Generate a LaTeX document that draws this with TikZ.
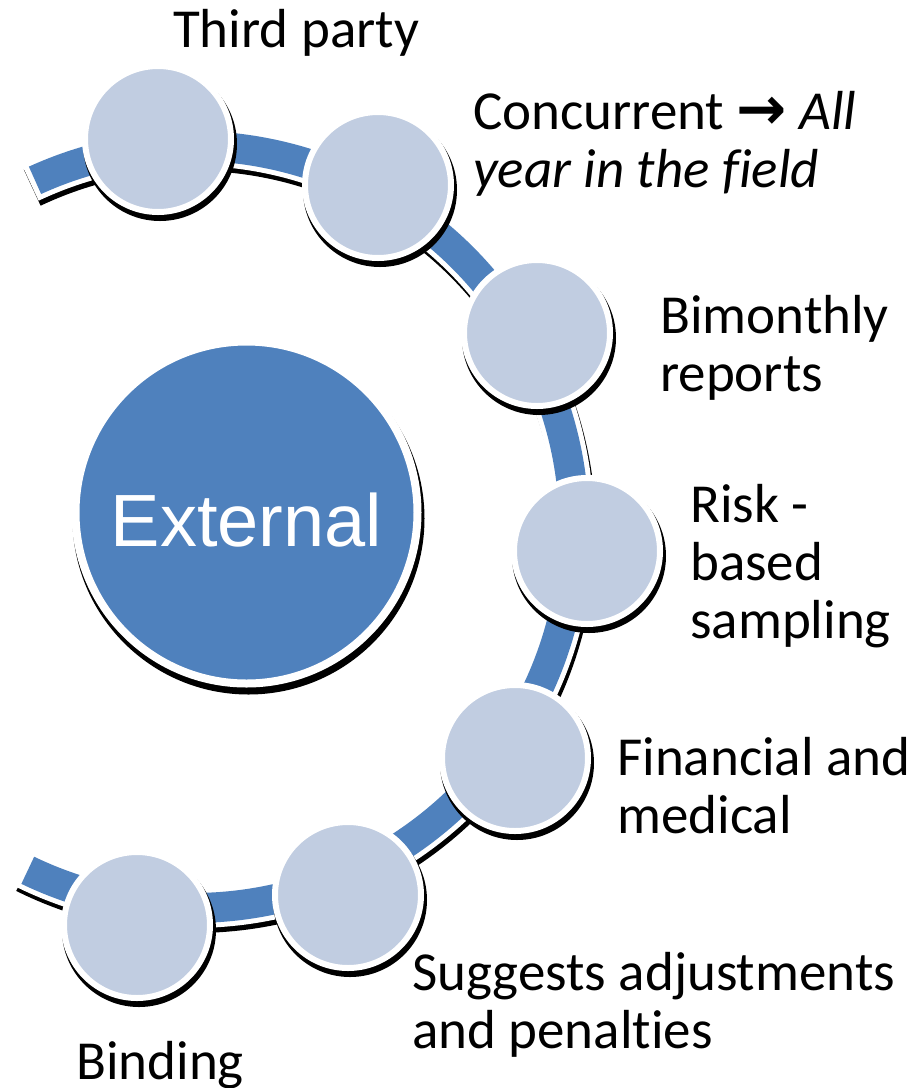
\documentclass[tikz,border=0pt]{standalone}
\usepackage{fontspec}
\setmainfont{Carlito}[Ligatures={NoCommon}]
\newfontfamily\arialfont{Liberation Sans}
\newfontfamily\symfont{DejaVu Sans}
\definecolor{bandblue}{RGB}{79,129,189}
\definecolor{beadfill}{RGB}{193,205,225}
\tikzset{
  bead/.style={circle, fill=beadfill, draw=white, line width=6pt, minimum size=146pt, inner sep=0pt},
  hub/.style={circle, fill=bandblue, draw=white, line width=8pt, minimum size=342pt, inner sep=0pt,
    text=white, font=\arialfont\fontsize{74}{80}\selectfont, text height=67pt, text depth=0pt},
  lbl/.style={anchor=base west, align=left, inner sep=0pt, font=\fontsize{55}{58}\selectfont},
  shadowdisc/.style={fill=black},
  bandshadow/.style={draw=black, line width=40pt},
  bandedge/.style={draw=white, line width=40pt},
  bandcore/.style={draw=bandblue, line width=30pt},
}
\begin{document}
\begin{tikzpicture}[x=1pt,y=1pt]
\useasboundingbox (0,0) rectangle (917,-1088);
\coordinate (bandc) at (193,-527);
% band
\path[bandshadow] ([shift={(2,-5)}]bandc) ++(115.3:381) arc[start angle=115.3, end angle=-116.5, radius=381];
\path[bandedge] (bandc) ++(115.3:381) arc[start angle=115.3, end angle=-116.5, radius=381];
\path[bandcore] (bandc) ++(114.5:381) arc[start angle=114.5, end angle=-115.7, radius=381];
% hub
\fill[shadowdisc] (248.5,-518.5) circle (176);
\node[hub] (hub) at (246.5,-512.5) {External};
% beads
\foreach \n/\x/\y in {b1/158/139, b2/378/185, b3/537/333, b4/587/551, b5/515/758, b6/348/895, b7/137/925}{
  \fill[shadowdisc] (\x+2,-\y-5) circle (77);
  \node[bead] (\n) at (\x,-\y) {};
}
% labels (base anchor = baseline of last line)
\node[lbl] (third) at (173,-47) {Third party};
\node[lbl] (conc) at (473,-187) {Concurrent {\symfont\bfseries\fontsize{60}{58}\selectfont →} \textit{All}\\\textit{year in the field}};
\node[lbl] (bim) at (660,-391) {Bimonthly\\reports};
\node[lbl] (risk) at (690,-638) {Risk -\\based\\sampling};
\node[lbl] (fin) at (617,-833) {Financial and\\medical};
\node[lbl] (sugg) at (412,-1048) {Suggests adjustments\\and penalties};
\node[lbl] (bind) at (76,-1079) {Binding};
\end{tikzpicture}
\end{document}
